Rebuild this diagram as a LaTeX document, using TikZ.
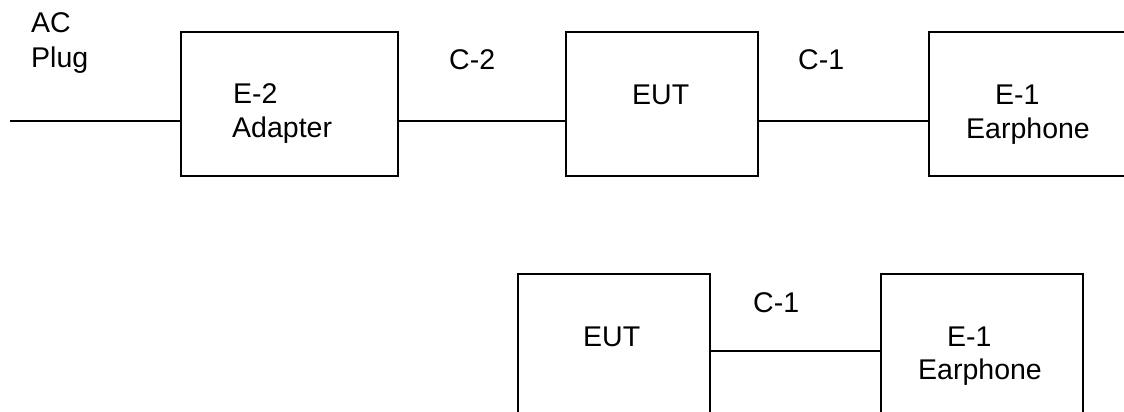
\documentclass[tikz,border=0pt]{standalone}
\usepackage{fontspec}
\setmainfont{Liberation Sans}
\begin{document}
\begin{tikzpicture}[x=1pt,y=-1pt,
  unit/.style={draw, line width=1.9pt, inner sep=0pt},
  cable/.style={line width=1.5pt},
  txt/.style={inner sep=0pt, anchor=base west, font=\fontsize{28.5}{34}\selectfont}]
  \clip (0,0) rectangle (1124,412);
  \fill[white] (0,0) rectangle (1124,412);

  % upper setup: plug - adapter - EUT - earphone
  \node[unit, minimum width=217pt, minimum height=144pt] (e2)  at (289.5,104) {};
  \node[unit, minimum width=192pt, minimum height=144pt] (eut) at (662,104) {};
  \node[unit, minimum width=220pt, minimum height=144pt] (e1)  at (1039,104) {};
  \coordinate (plug) at (10,121);

  \draw[cable] (plug) -- (plug -| e2.west);
  \draw[cable] (e2.east |- plug) -- (eut.west |- plug);
  \draw[cable] (eut.east |- plug) -- (e1.west |- plug);

  \node[txt] (ac)   at (31,33)  {AC};
  \node[txt] (plg)  at (31,67)  {Plug};
  \node[txt] (e2a)  at (233,103) {E-2};
  \node[txt] (e2b)  at (232,137) {Adapter};
  \node[txt] (c2)   at (449,70)  {C-2};
  \node[txt] (euta) at (632,104) {EUT};
  \node[txt] (c1a)  at (798,70)  {C-1};
  \node[txt] (e1a)  at (995,104) {E-1};
  \node[txt] (e1b)  at (966,138) {Earphone};

  % lower setup: EUT - earphone
  \node[unit, minimum width=192pt, minimum height=160pt] (eutl) at (614,354) {};
  \node[unit, minimum width=202pt, minimum height=160pt] (e1l)  at (982,354) {};
  \coordinate (lowline) at (0,351);
  \draw[cable] (eutl.east |- lowline) -- (e1l.west |- lowline);

  \node[txt] (eutlt) at (583,346) {EUT};
  \node[txt] (c1b)   at (753,312) {C-1};
  \node[txt] (e1la)  at (947,346) {E-1};
  \node[txt] (e1lb)  at (918,379) {Earphone};
\end{tikzpicture}
\end{document}
